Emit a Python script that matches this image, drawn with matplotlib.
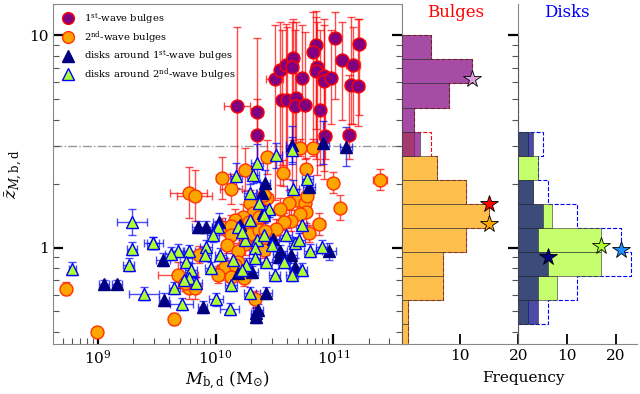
import numpy as np
import matplotlib
matplotlib.use('Agg')
import matplotlib.pyplot as plt
from matplotlib.lines import Line2D
from matplotlib.ticker import NullFormatter, FixedLocator, FixedFormatter

plt.rcParams['font.family'] = ['DejaVu Serif']
plt.rcParams['mathtext.fontset'] = 'dejavuserif'

# ---------------- data ----------------
# 1st-wave bulges
logM1 = [10.18, 10.35, 10.35, 10.50, 10.55, 10.60, 10.66, 10.65, 10.56, 10.61, 10.68, 10.67, 10.76, 10.85, 10.83,
         10.86, 10.85, 10.92, 10.92, 10.98, 10.89, 10.93, 11.01, 11.07, 11.17, 11.22, 11.15, 11.21, 11.13, 10.73]
z1 = [4.62, 4.37, 3.39, 6.23, 6.84, 7.27, 7.85, 7.10, 4.94, 4.94, 5.05, 4.62, 4.70, 8.97, 8.38,
      7.10, 6.77, 6.45, 6.11, 6.27, 4.46, 3.36, 9.72, 7.66, 7.25, 9.07, 5.85, 5.77, 3.39, 6.30]
z1_hi = [11.0, 9.75, 5.0, 11.2, 11.5, 11.3, 11.9, 11.6, 10.6, 10.9, 11.6, 10.6, 10.4, 13.0, 12.9,
         11.5, 12.2, 11.9, 11.2, 10.6, 10.6, 6.5, 12.9, 11.6, 10.9, 11.9, 12.2, 11.9, 6.5, 11.2]
z1_lo = [2.2, 2.46, 2.4, 1.68, 1.98, 2.33, 3.2, 1.87, 2.45, 2.1, 1.77, 2.9, 2.6, 3.6, 2.9,
         2.2, 2.6, 2.3, 2.1, 3.8, 2.45, 2.6, 5.0, 4.0, 3.8, 4.2, 3.8, 3.75, 2.6, 2.9]
xe1 = [0.11, 0.05, 0.04, 0.07, 0.04, 0.04, 0.04, 0.05, 0.04, 0.04, 0.04, 0.04, 0.04, 0.04, 0.04,
       0.05, 0.04, 0.04, 0.04, 0.04, 0.04, 0.05, 0.04, 0.05, 0.06, 0.05, 0.05, 0.05, 0.05, 0.04]

# 2nd-wave bulges
logM2 = [10.72, 10.83, 10.44, 10.25, 10.05, 10.57, 10.77, 11.40, 11.00, 9.77, 9.82, 10.13, 10.29, 10.69, 10.76,
         10.62, 10.44, 10.41, 10.78, 11.06, 10.55, 10.77, 10.72, 10.64, 10.58, 10.88, 10.32, 10.23, 10.16, 10.28,
         10.34, 10.37, 10.05, 10.13, 10.79, 10.51, 10.13, 10.29, 10.37, 10.42, 10.39, 10.10, 10.41, 10.25, 10.19,
         9.86, 10.19, 10.05, 10.08, 9.68, 10.02, 10.16, 10.13, 10.24, 9.77, 9.82, 8.73, 10.33, 9.74, 9.65, 8.99]
z2 = [2.95, 2.95, 2.66, 2.33, 2.13, 2.25, 2.35, 2.09, 2.02, 1.81, 1.75, 1.89, 1.62, 1.68, 1.62,
      1.62, 1.71, 1.77, 1.75, 1.54, 1.52, 1.47, 1.44, 1.34, 1.32, 1.29, 1.46, 1.40, 1.35, 1.32,
      1.31, 1.40, 1.25, 1.27, 1.17, 1.22, 1.15, 1.16, 1.21, 1.20, 1.09, 1.03, 0.975, 1.04, 0.96,
      0.924, 0.857, 0.785, 0.811, 0.743, 0.743, 0.829, 0.727, 0.719, 0.645, 0.645, 0.639, 0.57, 0.681, 0.461, 0.40]
ye2 = [0.04, 0.04, 0.08, 0.10, 0.10, 0.06, 0.05, 0.05, 0.05, 0.12, 0.12, 0.07, 0.06, 0.05, 0.05,
       0.06, 0.06, 0.05, 0.05, 0.06, 0.05, 0.05, 0.05, 0.05, 0.04, 0.05, 0.05, 0.06, 0.05, 0.05,
       0.04, 0.05, 0.04, 0.05, 0.04, 0.05, 0.04, 0.04, 0.04, 0.04, 0.04, 0.04, 0.04, 0.05, 0.04,
       0.04, 0.04, 0.05, 0.04, 0.06, 0.04, 0.04, 0.04, 0.04, 0.05, 0.05, 0.03, 0.04, 0.04, 0.03, 0.02]
xe2 = [0.03, 0.03, 0.05, 0.04, 0.05, 0.04, 0.04, 0.06, 0.04, 0.16, 0.15, 0.09, 0.04, 0.04, 0.04,
       0.04, 0.04, 0.04, 0.04, 0.04, 0.04, 0.04, 0.04, 0.04, 0.04, 0.05, 0.04, 0.05, 0.04, 0.04,
       0.04, 0.04, 0.05, 0.04, 0.04, 0.04, 0.04, 0.04, 0.04, 0.04, 0.04, 0.05, 0.04, 0.04, 0.04,
       0.04, 0.04, 0.04, 0.04, 0.17, 0.04, 0.04, 0.04, 0.04, 0.05, 0.05, 0.03, 0.04, 0.04, 0.04, 0.02]

# disks around 1st-wave bulges
logM3 = [10.65, 10.91, 11.11, 10.42, 10.39, 10.79, 10.40, 9.85, 9.92, 10.03, 10.21, 10.49, 10.55, 10.96, 9.47,
         10.64, 10.67, 10.54, 10.31, 10.19, 9.55, 10.43, 9.05, 9.16, 9.56, 9.89, 10.34, 10.34, 10.36]
z3 = [3.05, 3.12, 2.99, 2.02, 1.81, 1.93, 1.46, 1.25, 1.25, 1.32, 1.28, 1.10, 0.96, 0.96, 1.05,
      0.924, 0.811, 0.904, 0.768, 0.760, 0.875, 0.611, 0.674, 0.674, 0.567, 0.525, 0.492, 0.471, 0.508]
ye3 = [0.09, 0.10, 0.09, 0.06, 0.05, 0.05, 0.04, 0.03, 0.03, 0.04, 0.04, 0.04, 0.03, 0.04, 0.03,
       0.04, 0.04, 0.03, 0.03, 0.03, 0.03, 0.03, 0.02, 0.02, 0.03, 0.03, 0.03, 0.03, 0.03]
xe3 = [0.05, 0.05, 0.05, 0.04, 0.04, 0.05, 0.05, 0.05, 0.05, 0.05, 0.06, 0.05, 0.06, 0.06, 0.08,
       0.05, 0.05, 0.05, 0.05, 0.05, 0.06, 0.05, 0.04, 0.04, 0.04, 0.04, 0.04, 0.04, 0.04]

# disks around 2nd-wave bulges
logM4 = [10.65, 10.51, 10.35, 10.17, 10.32, 10.78, 10.29, 10.66, 10.37, 10.45, 9.29, 10.02, 10.19, 10.41, 10.29,
         10.73, 9.47, 9.29, 9.77, 9.68, 9.92, 10.67, 10.71, 10.80, 10.25, 10.35, 10.33, 10.48, 10.22, 10.60,
         10.41, 9.98, 10.90, 9.26, 8.78, 9.62, 9.91, 10.04, 10.33, 10.43, 10.50, 10.65, 10.26, 10.15, 9.96,
         9.75, 10.73, 10.58, 9.79, 10.22, 9.77, 9.73, 9.83, 9.65, 9.39, 10.29, 10.00, 10.13, 9.71, 10.12]
z4 = [2.89, 2.72, 2.51, 2.18, 2.20, 2.10, 1.81, 1.89, 1.62, 1.52, 1.32, 1.25, 1.25, 1.43, 1.35,
      1.28, 1.05, 0.986, 0.96, 0.965, 1.01, 1.05, 1.09, 0.965, 1.08, 1.09, 1.00, 1.03, 1.19, 1.15,
      1.15, 1.14, 1.01, 0.829, 0.794, 0.934, 0.924, 0.924, 0.894, 0.857, 0.743, 0.743, 0.829, 0.875, 0.802,
      0.857, 0.785, 0.857, 0.785, 0.785, 0.719, 0.704, 0.681, 0.645, 0.605, 0.611, 0.57, 0.667, 0.542, 0.514]
ye4 = [0.06, 0.06, 0.09, 0.06, 0.04, 0.05, 0.04, 0.04, 0.04, 0.04, 0.06, 0.03, 0.03, 0.04, 0.03,
       0.04, 0.03, 0.03, 0.03, 0.03, 0.03, 0.03, 0.03, 0.03, 0.03, 0.03, 0.03, 0.03, 0.04, 0.03,
       0.03, 0.03, 0.03, 0.03, 0.03, 0.03, 0.03, 0.03, 0.03, 0.03, 0.03, 0.03, 0.03, 0.03, 0.03,
       0.03, 0.03, 0.03, 0.03, 0.03, 0.03, 0.03, 0.03, 0.03, 0.03, 0.03, 0.03, 0.03, 0.03, 0.03]
xe4 = [0.05, 0.05, 0.05, 0.05, 0.05, 0.05, 0.05, 0.05, 0.05, 0.05, 0.13, 0.05, 0.05, 0.05, 0.05,
       0.05, 0.05, 0.04, 0.05, 0.05, 0.05, 0.05, 0.05, 0.05, 0.05, 0.05, 0.05, 0.05, 0.05, 0.05,
       0.05, 0.05, 0.05, 0.05, 0.03, 0.05, 0.05, 0.05, 0.05, 0.05, 0.05, 0.05, 0.05, 0.05, 0.05,
       0.05, 0.05, 0.05, 0.05, 0.05, 0.05, 0.05, 0.05, 0.05, 0.13, 0.05, 0.06, 0.05, 0.10, 0.08]

# medians (stars in the histogram panels)
med_b1, med_b2, med_b = 6.2, 1.29, 1.6
med_d1, med_d2, med_d = 0.90, 1.02, 0.975
z_split = 3.0

legend_labels = [r'1$^{\rm st}$-wave bulges', r'2$^{\rm nd}$-wave bulges',
                 r'disks around 1$^{\rm st}$-wave bulges', r'disks around 2$^{\rm nd}$-wave bulges']

# ---------------- figure ----------------
W, H = 640, 394
fig = plt.figure(figsize=(6.4, 3.94), dpi=100)
bot = 1 - 344.3 / H
hgt = (344.3 - 4.3) / H
ax = fig.add_axes([53.3 / W, bot, (402.3 - 53.3) / W, hgt])
axb = fig.add_axes([402.3 / W, bot, (518.3 - 402.3) / W, hgt])
axd = fig.add_axes([518.3 / W, bot, (636.5 - 518.3) / W, hgt])

spine_c = '#888888'


def draw(logM, z, xe, zlo, zhi, mk, mfc, mec, ecol, ms):
    logM = np.asarray(logM); z = np.asarray(z); xe = np.asarray(xe)
    M = 10 ** logM
    xerr = [M - 10 ** (logM - xe), 10 ** (logM + xe) - M]
    yerr = [z - np.asarray(zlo), np.asarray(zhi) - z]
    ax.errorbar(M, z, xerr=xerr, yerr=yerr, fmt='none', ecolor=ecol, elinewidth=1.0,
                capsize=3, capthick=1.0, alpha=0.7, zorder=2)
    ax.plot(M, z, mk, ls='none', mfc=mfc, mec=mec, ms=ms, mew=1.0, zorder=3)


z2a, z3a, z4a = np.array(z2), np.array(z3), np.array(z4)
draw(logM1, z1, xe1, z1_lo, z1_hi, 'o', 'purple', 'red', 'red', 9.3)
draw(logM2, z2, xe2, z2a * 10 ** -np.array(ye2), z2a * 10 ** np.array(ye2), 'o', 'orange', '#ff3300', 'red', 9.3)
draw(logM3, z3, xe3, z3a * 10 ** -np.array(ye3), z3a * 10 ** np.array(ye3), '^', 'navy', 'navy', 'blue', 9)
draw(logM4, z4, xe4, z4a * 10 ** -np.array(ye4), z4a * 10 ** np.array(ye4), '^', 'greenyellow', 'blue', 'blue', 9)

ax.axhline(z_split, color='#999999', ls='-.', lw=1.0, zorder=1)

ax.set_xscale('log')
ax.set_yscale('log')
ax.set_xlim(10 ** 8.62, 10 ** 11.586)
ax.set_ylim(0.35, 14.0)
ax.yaxis.set_major_locator(FixedLocator([1, 10]))
ax.yaxis.set_major_formatter(FixedFormatter(['1', '10']))
ax.yaxis.set_minor_formatter(NullFormatter())
ax.xaxis.set_minor_formatter(NullFormatter())
ax.tick_params(which='both', direction='in', top=False, right=True, labelsize=11)
ax.tick_params(which='major', length=7, width=1.6, color='k')
ax.tick_params(which='minor', length=4, width=0.8, color='#555555')
for s in ax.spines.values():
    s.set_color(spine_c)
ax.set_xlabel(r'$M_{\rm b,d}$ (M$_{\odot}$)', fontsize=12, labelpad=2)
ax.set_ylabel(r'$\bar{z}_{M,\rm b,d}$', fontsize=12)
ax.yaxis.set_label_coords(-0.085, 0.5)

handles = [Line2D([], [], marker='o', ls='none', mfc='purple', mec='red', ms=8.5),
           Line2D([], [], marker='o', ls='none', mfc='orange', mec='#ff3300', ms=8.5),
           Line2D([], [], marker='^', ls='none', mfc='navy', mec='navy', ms=8.5),
           Line2D([], [], marker='^', ls='none', mfc='greenyellow', mec='blue', ms=8.5)]
ax.legend(handles, legend_labels, loc='upper left', frameon=False, fontsize=7.2,
          handletextpad=0.9, labelspacing=0.3, borderaxespad=0.4, handlelength=1.5,
          borderpad=0.3)

# ---------------- histograms ----------------
bins = np.logspace(-0.4755, 1.0, 14)


def count_at(vals, med):
    c, _ = np.histogram(vals, bins=bins)
    return c[np.searchsorted(bins, med) - 1]


zb = np.concatenate([z1, z2])
axb.hist(zb, bins=bins, orientation='horizontal', histtype='step', color='red', ls='--', lw=0.8, zorder=1)
axb.hist(z2, bins=bins, orientation='horizontal', color='orange', alpha=0.7, edgecolor='#333333', lw=0.6, zorder=2)
axb.hist(z1, bins=bins, orientation='horizontal', color='purple', alpha=0.7, edgecolor='#333333', lw=0.6, zorder=3)
star = dict(marker='*', ms=13, mec='k', mew=0.6, ls='none', zorder=5, clip_on=False)
axb.plot(count_at(z1, med_b1), med_b1, mfc='plum', **star)
axb.plot(count_at(zb, med_b), med_b, mfc='red', **star)
axb.plot(count_at(z2, med_b2), med_b2, mfc='orange', **star)

zd = np.concatenate([z3, z4])
axd.hist(zd, bins=bins, orientation='horizontal', histtype='step', color='blue', ls='--', lw=0.8, zorder=1)
axd.hist(z4, bins=bins, orientation='horizontal', color='greenyellow', alpha=0.7, edgecolor='#333333', lw=0.6, zorder=2)
axd.hist(z3, bins=bins, orientation='horizontal', color='navy', alpha=0.7, edgecolor='#333333', lw=0.6, zorder=3)
axd.plot(count_at(z4, med_d2), med_d2, mfc='greenyellow', **star)
axd.plot(count_at(z3, med_d1), med_d1, mfc='navy', **star)
axd.plot(count_at(zd, med_d), med_d, mfc='dodgerblue', **star)

for a, xmax in ((axb, 20.0), (axd, 24.2)):
    a.set_yscale('log')
    a.set_ylim(ax.get_ylim())
    a.set_xlim(0, xmax)
    a.set_xticks([10, 20])
    a.yaxis.set_major_locator(FixedLocator([1, 10]))
    a.yaxis.set_minor_formatter(NullFormatter())
    a.yaxis.set_major_formatter(NullFormatter())
    a.spines['top'].set_visible(False)
    a.spines['right'].set_visible(False)
    a.spines['left'].set_color(spine_c)
    a.spines['bottom'].set_color(spine_c)
    a.tick_params(axis='x', direction='in', length=7, width=1.3, color='k', labelsize=11, top=False)
    a.tick_params(axis='x', which='minor', bottom=False)

axb.tick_params(axis='y', which='both', left=False, right=True, direction='in', labelleft=False)
axb.tick_params(axis='y', which='major', length=7, width=1.6, color='k')
axb.tick_params(axis='y', which='minor', length=4, width=0.8, color='#555555')
axd.tick_params(axis='y', which='both', left=False, right=False, labelleft=False)

axb.text(0.457, 0.976, 'Bulges', color='red', fontsize=12, ha='center', va='center', transform=axb.transAxes)
axd.text(0.415, 0.976, 'Disks', color='blue', fontsize=12, ha='center', va='center', transform=axd.transAxes)
fig.text(523 / W, 1 - 378 / H, 'Frequency', ha='center', va='center', fontsize=11)

fig.savefig('out.png', dpi=100)
